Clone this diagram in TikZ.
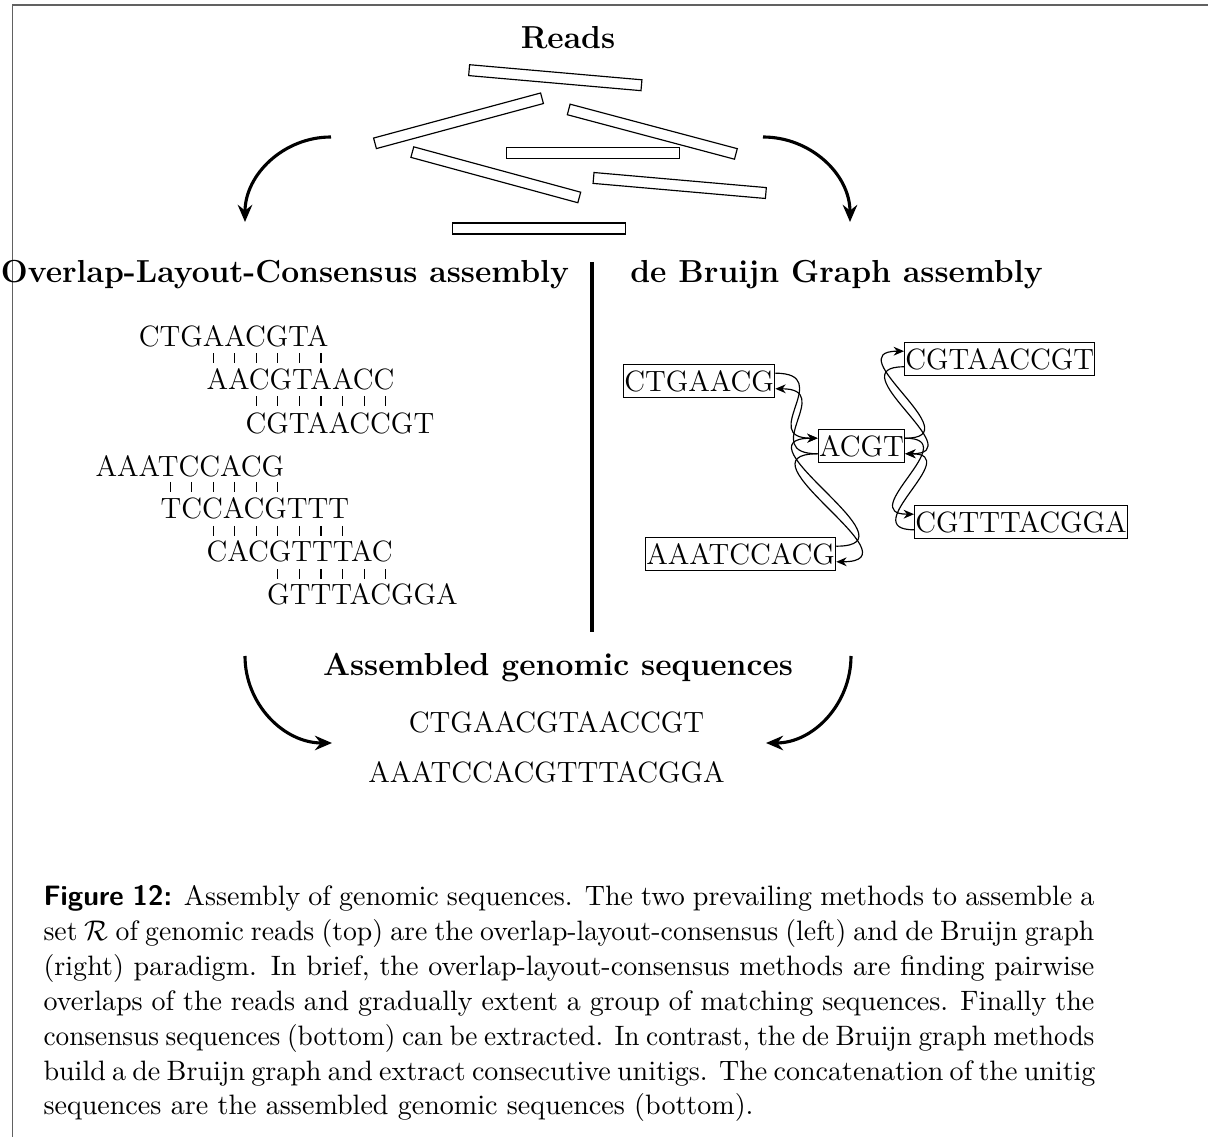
\documentclass[tikz,border=0pt]{standalone}
\usepackage{graphicx}
\usetikzlibrary{arrows.meta}
% a caption line squeezed slightly to the full line width
\newcommand{\tightline}[2]{\resizebox{\linewidth}{\height}{\makebox[#1][s]{#2}}}
\begin{document}
\begin{tikzpicture}[x=0.385pt,y=-0.385pt,
  heading/.style={font=\fontsize{12.25}{14}\selectfont\bfseries, inner sep=0pt},
  seqtext/.style={font=\fontsize{11.3}{13.6}\selectfont, inner sep=0pt},
  readbar/.style={draw, line width=0.45pt, minimum width=66.6pt, minimum height=4.2pt, inner sep=0pt},
  kmer/.style={draw, line width=0.45pt, font=\fontsize{11.3}{13.6}\selectfont,
    inner xsep=0.3pt, inner ysep=0pt, minimum height=13pt},
  bigarrow/.style={very thick, -{Stealth[length=6.6pt,width=5.6pt,inset=2.2pt]}},
  dbgarc/.style={line width=0.45pt, -{Stealth[length=4pt,width=3.4pt,inset=1.3pt]}},
  matchtick/.style={line width=0.45pt},
  divider/.style={very thick},
  pageframe/.style={line width=0.55pt, black!62},
]
\useasboundingbox (0,0) rectangle (1208,1137);

% frame around the figure
\draw[pageframe] (12.5,1137) -- (12.5,5) -- (1208,5);

% ---------- the set of reads ----------
\node[heading, anchor=base] (reads) at (568,49) {Reads};
\node[readbar, rotate=-5]    (r1) at (555.3,77.7) {};
\node[readbar, rotate=15.1]  (r2) at (458.5,120.8) {};
\node[readbar, rotate=-14.9] (r3) at (652.3,131.7) {};
\node[readbar]               (r4) at (593,153.2) {};
\node[readbar, rotate=-15.2] (r5) at (495.8,174.8) {};
\node[readbar, rotate=-5]    (r6) at (679.7,185.5) {};
\node[readbar]               (r7) at (539.2,228.5) {};

\coordinate (tl-from) at (331,137);
\coordinate (tl-to)   at (245,222);
\draw[bigarrow] (tl-from) to[out=180,in=90] (tl-to);
\coordinate (tr-from) at (763,137);
\coordinate (tr-to)   at (850,222);
\draw[bigarrow] (tr-from) to[out=0,in=90] (tr-to);

% ---------- headings and divider ----------
\node[heading, anchor=base] (olc) at (285,283) {Overlap-Layout-Consensus assembly};
\node[heading, anchor=base] (dbg) at (836.5,283) {de Bruijn Graph assembly};
\coordinate (div-top) at (592,262);
\coordinate (div-bot) at (592,632);
\draw[divider] (div-top) -- (div-bot);

% ---------- overlap layout ----------
\node[seqtext, anchor=base west] (o1) at (138.3,346.7) {CTGAACGTA};
\node[seqtext, anchor=base west] (o2) at (206,390)     {AACGTAACC};
\node[seqtext, anchor=base west] (o3) at (245,434)     {CGTAACCGT};
\node[seqtext, anchor=base west] (o4) at (95,476.7)    {AAATCCACG};
\node[seqtext, anchor=base west] (o5) at (160,518.3)   {TCCACGTTT};
\node[seqtext, anchor=base west] (o6) at (206,561.7)   {CACGTTTAC};
\node[seqtext, anchor=base west] (o7) at (266.7,605)   {GTTTACGGA};

\foreach \k in {3,...,8}  \draw[matchtick] (148.6+21.55*\k,353.3) -- ++(0,10);
\foreach \k in {5,...,11} \draw[matchtick] (148.6+21.55*\k,396.5) -- ++(0,10);
\foreach \k in {1,...,6}  \draw[matchtick] (148.6+21.55*\k,482)   -- ++(0,10);
\foreach \k in {3,...,9}  \draw[matchtick] (148.6+21.55*\k,526)   -- ++(0,10);
\foreach \k in {6,...,11} \draw[matchtick] (148.6+21.55*\k,569.5) -- ++(0,10);

% ---------- de Bruijn graph ----------
\node[kmer, anchor=west] (k1)  at (623,381)   {CTGAACG};
\node[kmer, anchor=west] (k2)  at (904,359)   {CGTAACCGT};
\node[kmer, anchor=west] (hub) at (817.7,446) {ACGT};
\node[kmer, anchor=west] (k3)  at (914,522)   {CGTTTACGGA};
\node[kmer, anchor=west] (k4)  at (645,554)   {AAATCCACG};

\draw[dbgarc] ([yshift=3pt]k1.east) to[out=0,in=180,looseness=2] ([yshift=3pt]hub.west);
\draw[dbgarc] ([yshift=-3pt]hub.west) to[out=180,in=0,looseness=2] ([yshift=-3pt]k1.east);
\draw[dbgarc] ([yshift=3pt]k4.east) to[out=0,in=180,looseness=2] ([yshift=3pt]hub.west);
\draw[dbgarc] ([yshift=-3pt]hub.west) to[out=180,in=0,looseness=2] ([yshift=-3pt]k4.east);
\draw[dbgarc] ([yshift=3pt]hub.east) to[out=0,in=180,looseness=2] ([yshift=3pt]k2.west);
\draw[dbgarc] ([yshift=3pt]hub.east) to[out=0,in=180,looseness=2] ([yshift=3pt]k3.west);
\draw[dbgarc] ([yshift=-3pt]k2.west) to[out=180,in=0,looseness=2] ([yshift=-3pt]hub.east);
\draw[dbgarc] ([yshift=-3pt]k3.west) to[out=180,in=0,looseness=2] ([yshift=-3pt]hub.east);

% ---------- assembled sequences ----------
\node[heading, anchor=base] (asm) at (558,676) {Assembled genomic sequences};
\node[seqtext, anchor=base] (u1) at (556.5,733) {CTGAACGTAACCGT};
\node[seqtext, anchor=base] (u2) at (546.5,783) {AAATCCACGTTTACGGA};

\coordinate (bl-from) at (245,656);
\coordinate (bl-to)   at (332,743);
\draw[bigarrow] (bl-from) to[out=-90,in=180] (bl-to);
\coordinate (br-from) at (851,656);
\coordinate (br-to)   at (766,743);
\draw[bigarrow] (br-from) to[out=-90,in=0] (br-to);

% ---------- caption ----------
\node[anchor=base west, inner sep=0pt] (caption) at (43,906) {\parbox[t]{404.6pt}{%
\fontsize{10.8}{13.4}\selectfont
\makebox[\linewidth][s]{{\sffamily\bfseries Figure 12:} Assembly of genomic sequences. The two prevailing methods to assemble a}\\
\tightline{409pt}{set $\mathcal{R}$ of genomic reads (top) are the overlap-layout-consensus (left) and de Bruijn graph}\\
\makebox[\linewidth][s]{(right) paradigm. In brief, the overlap-layout-consensus methods are finding pairwise}\\
\makebox[\linewidth][s]{overlaps of the reads and gradually extent a group of matching sequences. Finally the}\\
\tightline{416pt}{consensus sequences (bottom) can be extracted. In contrast, the de Bruijn graph methods}\\
\makebox[\linewidth][s]{build a de Bruijn graph and extract consecutive unitigs. The concatenation of the unitig}\\
\makebox[\linewidth][l]{sequences are the assembled genomic sequences (bottom).}}};
\end{tikzpicture}
\end{document}
